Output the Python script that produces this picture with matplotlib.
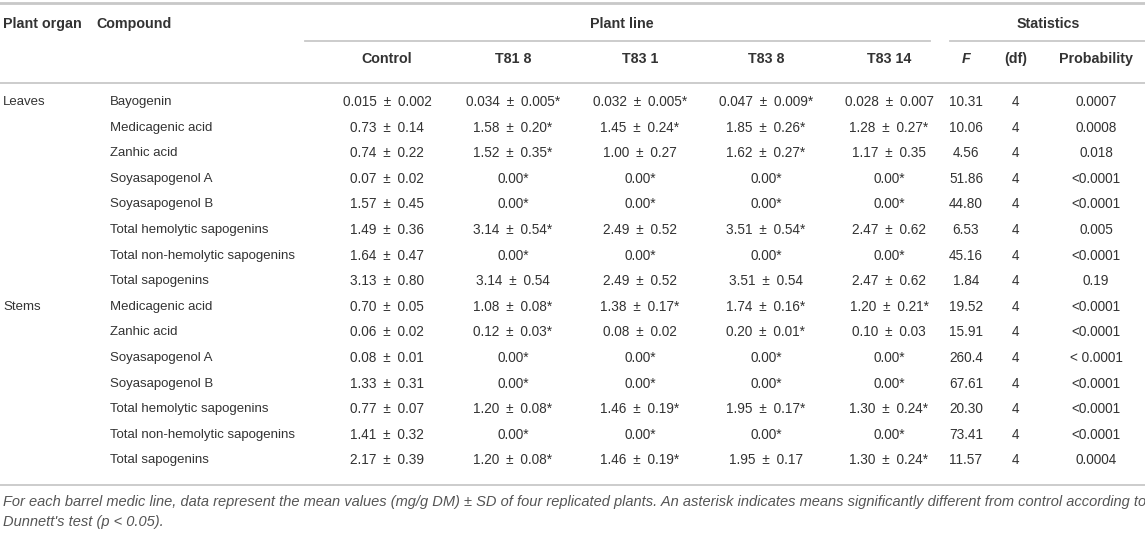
import matplotlib
matplotlib.use("Agg")
import matplotlib.pyplot as plt

plt.rcParams['font.family'] = ['Liberation Sans', 'DejaVu Sans']

# ---- data ----
organs = ["Leaves", "", "", "", "", "", "", "", "Stems", "", "", "", "", "", ""]
compounds = [
    "Bayogenin", "Medicagenic acid", "Zanhic acid", "Soyasapogenol A",
    "Soyasapogenol B", "Total hemolytic sapogenins",
    "Total non-hemolytic sapogenins", "Total sapogenins",
    "Medicagenic acid", "Zanhic acid", "Soyasapogenol A", "Soyasapogenol B",
    "Total hemolytic sapogenins", "Total non-hemolytic sapogenins",
    "Total sapogenins",
]
line_names = ["Control", "T81 8", "T83 1", "T83 8", "T83 14"]
control = ["0.015 ± 0.002", "0.73 ± 0.14", "0.74 ± 0.22", "0.07 ± 0.02",
           "1.57 ± 0.45", "1.49 ± 0.36", "1.64 ± 0.47", "3.13 ± 0.80",
           "0.70 ± 0.05", "0.06 ± 0.02", "0.08 ± 0.01", "1.33 ± 0.31",
           "0.77 ± 0.07", "1.41 ± 0.32", "2.17 ± 0.39"]
t81_8 = ["0.034 ± 0.005*", "1.58 ± 0.20*", "1.52 ± 0.35*", "0.00*",
         "0.00*", "3.14 ± 0.54*", "0.00*", "3.14 ± 0.54",
         "1.08 ± 0.08*", "0.12 ± 0.03*", "0.00*", "0.00*",
         "1.20 ± 0.08*", "0.00*", "1.20 ± 0.08*"]
t83_1 = ["0.032 ± 0.005*", "1.45 ± 0.24*", "1.00 ± 0.27", "0.00*",
         "0.00*", "2.49 ± 0.52", "0.00*", "2.49 ± 0.52",
         "1.38 ± 0.17*", "0.08 ± 0.02", "0.00*", "0.00*",
         "1.46 ± 0.19*", "0.00*", "1.46 ± 0.19*"]
t83_8 = ["0.047 ± 0.009*", "1.85 ± 0.26*", "1.62 ± 0.27*", "0.00*",
         "0.00*", "3.51 ± 0.54*", "0.00*", "3.51 ± 0.54",
         "1.74 ± 0.16*", "0.20 ± 0.01*", "0.00*", "0.00*",
         "1.95 ± 0.17*", "0.00*", "1.95 ± 0.17"]
t83_14 = ["0.028 ± 0.007", "1.28 ± 0.27*", "1.17 ± 0.35", "0.00*",
          "0.00*", "2.47 ± 0.62", "0.00*", "2.47 ± 0.62",
          "1.20 ± 0.21*", "0.10 ± 0.03", "0.00*", "0.00*",
          "1.30 ± 0.24*", "0.00*", "1.30 ± 0.24*"]
f_vals = ["10.31", "10.06", "4.56", "51.86", "44.80", "6.53", "45.16", "1.84",
          "19.52", "15.91", "260.4", "67.61", "20.30", "73.41", "11.57"]
df_vals = ["4"] * 15
prob_vals = ["0.0007", "0.0008", "0.018", "<0.0001", "<0.0001", "0.005",
             "<0.0001", "0.19", "<0.0001", "<0.0001", "< 0.0001", "<0.0001",
             "<0.0001", "<0.0001", "0.0004"]
footnote = ["For each barrel medic line, data represent the mean values (mg/g DM) ± SD of four replicated plants. An asterisk indicates means significantly different from control according to",
            "Dunnett's test (p < 0.05)."]

# ---- layout ----
W, H = 1145, 544
fig = plt.figure(figsize=(W / 100, H / 100), dpi=100)
ax = fig.add_axes([0, 0, 1, 1])
ax.set_xlim(0, W)
ax.set_ylim(H, 0)
ax.axis("off")

txt = "#333333"
rule = "#c8c8c8"
fs = 9.5
nfs = 9.8
hfs = 10.3

col_x = [387, 513, 640, 766, 889]
fx, dfx, px = 966, 1016, 1096

def pm(s):
    # slightly wider spacing around the plus-minus sign, as in the reference
    return s.replace(" ± ", "\u2002±\u2002")

# rules
ax.plot([0, W], [3, 3], color=rule, lw=2)
ax.plot([305, 930], [41, 41], color=rule, lw=1.3)
ax.plot([950, W], [41, 41], color=rule, lw=1.3)
ax.plot([0, W], [83, 83], color=rule, lw=1.3)
ax.plot([0, W], [485, 485], color=rule, lw=1.3)

# header
y1, y2 = 24, 59
ax.text(3, y1, "Plant organ", ha="left", va="center", fontsize=hfs, fontweight="bold", color=txt)
ax.text(96, y1, "Compound", ha="left", va="center", fontsize=hfs, fontweight="bold", color=txt)
ax.text(622, y1, "Plant line", ha="center", va="center", fontsize=hfs, fontweight="bold", color=txt)
ax.text(1048, y1, "Statistics", ha="center", va="center", fontsize=hfs, fontweight="bold", color=txt)
for x, name in zip(col_x, line_names):
    ax.text(x, y2, name, ha="center", va="center", fontsize=hfs, fontweight="bold", color=txt)
ax.text(fx, y2, "F", ha="center", va="center", fontsize=hfs, fontweight="bold", fontstyle="italic", color=txt)
ax.text(dfx, y2, "(df)", ha="center", va="center", fontsize=hfs, fontweight="bold", color=txt)
ax.text(px, y2, "Probability", ha="center", va="center", fontsize=hfs, fontweight="bold", color=txt)

# body
y0, dy = 102, 25.6
cols = [control, t81_8, t83_1, t83_8, t83_14]
for i in range(len(compounds)):
    y = y0 + i * dy
    if organs[i]:
        ax.text(3, y, organs[i], ha="left", va="center", fontsize=fs, color=txt)
    ax.text(110, y, compounds[i], ha="left", va="center", fontsize=fs, color=txt)
    for x, c in zip(col_x, cols):
        ax.text(x, y, pm(c[i]), ha="center", va="center", fontsize=nfs, color=txt)
    ax.text(fx, y, f_vals[i], ha="center", va="center", fontsize=nfs, color=txt)
    ax.text(dfx, y, df_vals[i], ha="center", va="center", fontsize=nfs, color=txt)
    ax.text(px, y, prob_vals[i], ha="center", va="center", fontsize=nfs, color=txt)

# footnote
ax.text(3, 502, footnote[0], ha="left", va="center", fontsize=10.55, fontstyle="italic", color="#555555")
ax.text(3, 522, footnote[1], ha="left", va="center", fontsize=10.55, fontstyle="italic", color="#555555")

fig.savefig("out.png", dpi=100)
